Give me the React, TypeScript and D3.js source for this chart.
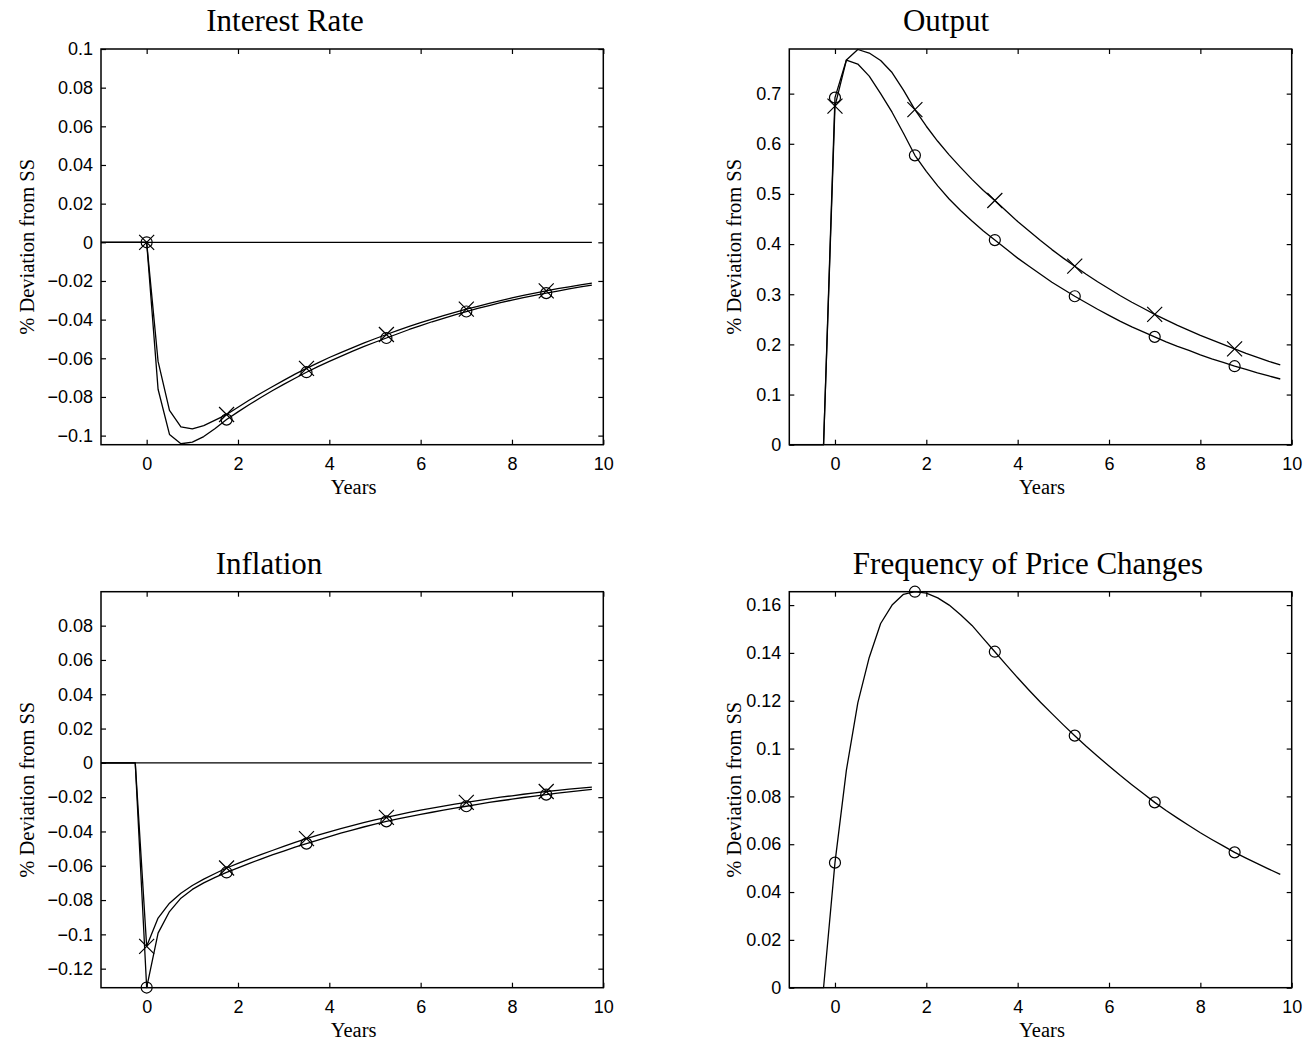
import React, { useEffect, useRef } from 'react';
import * as d3 from 'd3';

// quarterly time grid, in years
const years = [
  -1, -0.75, -0.5, -0.25, 0, 0.25, 0.5, 0.75, 1, 1.25, 1.5, 1.75, 2, 2.25, 2.5, 2.75,
  3, 3.25, 3.5, 3.75, 4, 4.25, 4.5, 4.75, 5, 5.25, 5.5, 5.75, 6, 6.25, 6.5, 6.75,
  7, 7.25, 7.5, 7.75, 8, 8.25, 8.5, 8.75, 9, 9.25, 9.5, 9.75,
];
const markerYears = [0, 1.75, 3.5, 5.25, 7, 8.75];
const xTicks = [0, 2, 4, 6, 8, 10];

const interestO = [
  0, 0, 0, 0, 0, -0.076, -0.0994, -0.1042, -0.1034, -0.1005, -0.0963, -0.0917, -0.0877, -0.0839, -0.0803, -0.0768,
  -0.0735, -0.0703, -0.0672, -0.0643, -0.0616, -0.059, -0.0564, -0.054, -0.0517, -0.0495, -0.0473, -0.0451, -0.0431, -0.0411, -0.0393, -0.0375,
  -0.0358, -0.0342, -0.0327, -0.0312, -0.0299, -0.0286, -0.0274, -0.0263, -0.0252, -0.0241, -0.0231, -0.0222,
];
const interestX = [
  0, 0, 0, 0, 0, -0.0616, -0.0869, -0.0955, -0.0965, -0.0948, -0.092, -0.0891, -0.0853, -0.0816, -0.0781, -0.0747,
  -0.0714, -0.0682, -0.0652, -0.0624, -0.0596, -0.0571, -0.0546, -0.0522, -0.0499, -0.0477, -0.0456, -0.0435, -0.0416, -0.0397, -0.0379, -0.0362,
  -0.0346, -0.0331, -0.0316, -0.0302, -0.0288, -0.0275, -0.0263, -0.0251, -0.024, -0.023, -0.022, -0.0211,
];
const outputO = [
  0, 0, 0, 0, 0.692, 0.767, 0.759, 0.735, 0.7, 0.663, 0.621, 0.577, 0.545, 0.516, 0.49, 0.467,
  0.446, 0.426, 0.408, 0.39, 0.372, 0.356, 0.34, 0.324, 0.31, 0.296, 0.283, 0.27, 0.258, 0.246, 0.235, 0.225,
  0.215, 0.205, 0.196, 0.188, 0.179, 0.171, 0.164, 0.1565, 0.15, 0.143, 0.137, 0.131,
];
const outputX = [
  0, 0, 0, 0, 0.675, 0.767, 0.788, 0.781, 0.766, 0.742, 0.707, 0.668, 0.635, 0.605, 0.578, 0.553,
  0.529, 0.507, 0.487, 0.466, 0.445, 0.426, 0.407, 0.389, 0.372, 0.356, 0.34, 0.325, 0.311, 0.297, 0.284, 0.272,
  0.26, 0.249, 0.238, 0.228, 0.218, 0.209, 0.2, 0.191, 0.182, 0.174, 0.166, 0.159,
];
const inflationO = [
  0, 0, 0, 0, -0.131, -0.0993, -0.0867, -0.0789, -0.0738, -0.07, -0.0668, -0.0639, -0.0612, -0.0586, -0.0561, -0.0537,
  -0.0514, -0.0492, -0.0471, -0.045, -0.043, -0.041, -0.0392, -0.0374, -0.0357, -0.0341, -0.0327, -0.0313, -0.03, -0.0288, -0.0276, -0.0264,
  -0.0253, -0.0242, -0.0231, -0.0221, -0.0212, -0.0202, -0.0194, -0.0185, -0.0177, -0.0169, -0.0162, -0.0155,
];
const inflationX = [
  0, 0, 0, 0, -0.107, -0.0905, -0.0818, -0.076, -0.0715, -0.0678, -0.0645, -0.0613, -0.0586, -0.056, -0.0535, -0.0511,
  -0.0487, -0.0464, -0.0442, -0.0422, -0.0402, -0.0384, -0.0366, -0.0349, -0.0333, -0.0318, -0.0303, -0.0289, -0.0276, -0.0264, -0.0252, -0.0241,
  -0.023, -0.022, -0.021, -0.02, -0.0192, -0.0183, -0.0175, -0.0167, -0.016, -0.0153, -0.0147, -0.0141,
];
const frequencyO = [
  0, 0, 0, 0, 0.0523, 0.091, 0.1191, 0.1381, 0.1523, 0.16, 0.1645, 0.1656, 0.165, 0.163, 0.16, 0.156,
  0.1515, 0.146, 0.1405, 0.135, 0.1296, 0.1244, 0.1194, 0.1146, 0.1099, 0.1054, 0.101, 0.0968, 0.0927, 0.0887, 0.0849, 0.0812,
  0.0775, 0.0741, 0.0709, 0.0678, 0.0648, 0.062, 0.0593, 0.0566, 0.0542, 0.0519, 0.0496, 0.0474,
];

const interestTicks = [-0.1, -0.08, -0.06, -0.04, -0.02, 0, 0.02, 0.04, 0.06, 0.08, 0.1];
const outputTicks = [0, 0.1, 0.2, 0.3, 0.4, 0.5, 0.6, 0.7];
const inflationTicks = [-0.12, -0.1, -0.08, -0.06, -0.04, -0.02, 0, 0.02, 0.04, 0.06, 0.08];
const frequencyTicks = [0, 0.02, 0.04, 0.06, 0.08, 0.1, 0.12, 0.14, 0.16];

const titles = ['Interest Rate', 'Output', 'Inflation', 'Frequency of Price Changes'];

type Series = { values: number[]; marker: 'o' | 'x' };
type Panel = {
  title: string;
  titleX: number;
  col: number;
  row: number;
  yDomain: [number, number];
  yTicks: number[];
  series: Series[];
  zeroLine: boolean;
  labelX: number;
};

const cols = [{ left: 101, right: 603.3 }, { left: 789.3, right: 1291.7 }];
const rows = [{ top: 49, bottom: 444.7 }, { top: 591.7, bottom: 987.7 }];

const panels: Panel[] = [
  { title: titles[0], titleX: 285, col: 0, row: 0, yDomain: [-0.1047, 0.1], yTicks: interestTicks,
    series: [{ values: interestX, marker: 'x' }, { values: interestO, marker: 'o' }], zeroLine: true, labelX: 34 },
  { title: titles[1], titleX: 946, col: 1, row: 0, yDomain: [0, 0.789], yTicks: outputTicks,
    series: [{ values: outputX, marker: 'x' }, { values: outputO, marker: 'o' }], zeroLine: false, labelX: 741 },
  { title: titles[2], titleX: 269, col: 0, row: 1, yDomain: [-0.1311, 0.0998], yTicks: inflationTicks,
    series: [{ values: inflationX, marker: 'x' }, { values: inflationO, marker: 'o' }], zeroLine: true, labelX: 34 },
  { title: titles[3], titleX: 1028, col: 1, row: 1, yDomain: [0, 0.1656], yTicks: frequencyTicks,
    series: [{ values: frequencyO, marker: 'o' }], zeroLine: false, labelX: 741 },
];

const serif = "'Liberation Serif', 'Times New Roman', serif";
const sans = "'Liberation Sans', Arial, sans-serif";

const fmt = (v: number) => (v < 0 ? '\u2212' : '') + String(+Math.abs(v).toFixed(3));

function drawPanel(svg: d3.Selection<SVGSVGElement, unknown, null, undefined>, p: Panel) {
  const { left, right } = cols[p.col];
  const { top, bottom } = rows[p.row];
  const x = d3.scaleLinear().domain([-1, 10]).range([left, right]);
  const y = d3.scaleLinear().domain(p.yDomain).range([bottom, top]);
  const g = svg.append('g');

  const styleAxis = (a: d3.Selection<SVGGElement, unknown, null, undefined>) => {
    a.select('.domain').remove();
    a.attr('font-size', 18).attr('font-family', sans).attr('color', '#000');
    a.selectAll('line').attr('stroke-width', 1.2);
    a.selectAll('text').attr('fill', '#000');
  };

  g.append('g').attr('transform', `translate(0,${bottom})`)
    .call(d3.axisBottom(x).tickValues(xTicks).tickSize(-5).tickPadding(13).tickFormat(d => fmt(+d)))
    .call(styleAxis);
  g.append('g').attr('transform', `translate(0,${top})`)
    .call(d3.axisTop(x).tickValues(xTicks).tickSize(-5).tickFormat(() => ''))
    .call(styleAxis);
  g.append('g').attr('transform', `translate(${left},0)`)
    .call(d3.axisLeft(y).tickValues(p.yTicks).tickSize(-5).tickPadding(8).tickFormat(d => fmt(+d)))
    .call(styleAxis);
  g.append('g').attr('transform', `translate(${right},0)`)
    .call(d3.axisRight(y).tickValues(p.yTicks).tickSize(-5).tickFormat(() => ''))
    .call(styleAxis);

  if (p.zeroLine) {
    g.append('line')
      .attr('x1', x(-1)).attr('x2', x(9.75))
      .attr('y1', y(0)).attr('y2', y(0))
      .attr('stroke', '#000').attr('stroke-width', 1.3);
  }

  const line = d3.line<number>()
    .x((d, i) => x(years[i]))
    .y(d => y(d));

  p.series.forEach(s => {
    g.append('path')
      .datum(s.values)
      .attr('fill', 'none')
      .attr('stroke', '#000')
      .attr('stroke-width', 1.3)
      .attr('stroke-linejoin', 'round')
      .attr('d', line);

    const pts = markerYears.map(t => ({ t, v: s.values[years.indexOf(t)] }));
    if (s.marker === 'o') {
      g.selectAll(null).data(pts).enter().append('circle')
        .attr('cx', d => x(d.t)).attr('cy', d => y(d.v)).attr('r', 5.5)
        .attr('fill', 'none').attr('stroke', '#000').attr('stroke-width', 1.2);
    } else {
      const h = 7.5;
      g.selectAll(null).data(pts).enter().append('path')
        .attr('d', d => {
          const cx = x(d.t), cy = y(d.v);
          return `M${cx - h},${cy - h}L${cx + h},${cy + h}M${cx - h},${cy + h}L${cx + h},${cy - h}`;
        })
        .attr('fill', 'none').attr('stroke', '#000').attr('stroke-width', 1.2);
    }
  });

  g.append('rect')
    .attr('x', left).attr('y', top)
    .attr('width', right - left).attr('height', bottom - top)
    .attr('fill', 'none').attr('stroke', '#000').attr('stroke-width', 1.5);

  g.append('text')
    .attr('x', p.titleX).attr('y', top - 18)
    .attr('text-anchor', 'middle')
    .attr('font-family', serif).attr('font-size', 31)
    .text(p.title);

  g.append('text')
    .attr('x', (left + right) / 2 + 1.5).attr('y', bottom + 49.5)
    .attr('text-anchor', 'middle')
    .attr('font-family', serif).attr('font-size', 20.5)
    .text('Years');

  const cy = (top + bottom) / 2;
  g.append('text')
    .attr('transform', `translate(${p.labelX},${cy}) rotate(-90)`)
    .attr('text-anchor', 'middle')
    .attr('font-family', serif).attr('font-size', 20.5)
    .text('% Deviation from SS');
}

export default function App() {
  const ref = useRef<SVGSVGElement>(null);

  useEffect(() => {
    const svg = d3.select(ref.current as SVGSVGElement);
    svg.selectAll('*').remove();
    panels.forEach(p => drawPanel(svg, p));
  }, []);

  return (
    <div style={{ position: 'absolute', left: 0, top: 0 }}>
      <svg ref={ref} width={1306} height={1045} style={{ display: 'block', background: '#fff' }} />
    </div>
  );
}
